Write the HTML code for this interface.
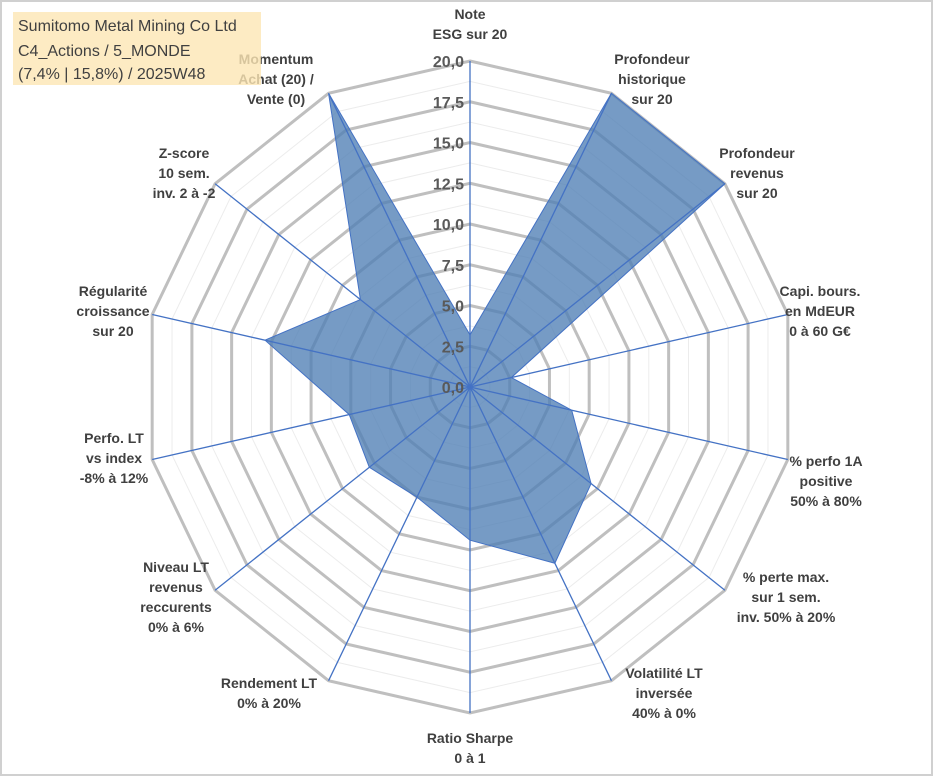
<!DOCTYPE html>
<html><head><meta charset="utf-8"><style>
body{margin:0;background:#fff;}
svg{display:block;font-family:"Liberation Sans",sans-serif;}
.lbl{font-weight:bold;font-size:14px;fill:#404040;text-anchor:middle;}
.tick{font-weight:bold;font-size:16px;fill:#595959;text-anchor:end;}
</style></head><body>
<svg id="chart" width="933" height="776">
<rect x="1" y="1" width="931" height="774" fill="#fff" stroke="#d0d0d0" stroke-width="2"/>
<g id="grid"></g><g id="area"></g><g id="axes"></g><g id="ticks"></g><g id="labels"></g>
<rect x="13" y="12" width="248" height="73" fill="#fde6b4" fill-opacity="0.8"/>
<text x="18" y="31" font-size="16" fill="#404040">Sumitomo Metal Mining Co Ltd</text>
<text x="18" y="56" font-size="16" fill="#404040">C4_Actions / 5_MONDE</text>
<text x="18" y="79" font-size="16" fill="#404040">(7,4% | 15,8%) / 2025W48</text>
</svg>
<script>
const categories=[["Note","ESG sur 20"],["Profondeur","historique","sur 20"],["Profondeur","revenus","sur 20"],["Capi. bours.","en MdEUR","0 à 60 G€"],["% perfo 1A","positive","50% à 80%"],["% perte max.","sur 1 sem.","inv. 50% à 20%"],["Volatilité LT","inversée","40% à 0%"],["Ratio Sharpe","0 à 1"],["Rendement LT","0% à 20%"],["Niveau LT","revenus","reccurents","0% à 6%"],["Perfo. LT","vs index","-8% à 12%"],["Régularité","croissance","sur 20"],["Z-score","10 sem.","inv. 2 à -2"],["Momentum","Achat (20) /","Vente (0)"]];
const values=[3.2,20,20,2.6,6.4,9.5,12.0,9.4,7.5,7.9,7.6,12.9,8.6,20];
const tickLabels=["0,0","2,5","5,0","7,5","10,0","12,5","15,0","17,5","20,0"];
const maxVal=20;
const labelPos=[[470,19],[652,64],[757,158],[820,296],[826,466],[786,582],[664,678],[470,743],[269,688],[176,572],[114,443],[113,296],[184,158],[276,64]];
const cx=470,cy=387,R=326,N=categories.length;
const ns="http://www.w3.org/2000/svg";
function ang(i){return i*2*Math.PI/N;}
function pt(i,v){const r=v/maxVal*R;return [cx+r*Math.sin(ang(i)),cy-r*Math.cos(ang(i))];}
function mk(tag,attrs,parent){const e=document.createElementNS(ns,tag);for(const k in attrs)e.setAttribute(k,attrs[k]);document.getElementById(parent).appendChild(e);return e;}
for(let k=1;k<=16;k++){const v=k*1.25;const pts=[];for(let i=0;i<N;i++)pts.push(pt(i,v).join(","));
const major=k%2===0;
const g=mk("polygon",{points:pts.join(" "),fill:"none",stroke:major?"#bfbfbf":"#ececec","stroke-width":major?3:1},"grid");

}
const ap=values.map((v,i)=>pt(i,v).join(",")).join(" ");
const a=mk("polygon",{points:ap,fill:"#4f7fb5","fill-opacity":"0.78",stroke:"#4472c4","stroke-width":1},"area");


for(let i=0;i<N;i++){const p=pt(i,maxVal);
const l=mk("line",{x1:cx,y1:cy,x2:p[0],y2:p[1],stroke:"#4472c4","stroke-width":1.3},"axes");

}
tickLabels.forEach((t,k)=>{const y=cy-k*2.5/maxVal*R+6;
const e=mk("text",{x:cx-6,y:y,class:"tick"},"ticks");e.textContent=t;

});
categories.forEach((lines,i)=>{const x=labelPos[i][0],y0=labelPos[i][1];
const t=mk("text",{class:"lbl"},"labels");


lines.forEach((ln,j)=>{const ts=document.createElementNS(ns,"tspan");ts.setAttribute("x",x);ts.setAttribute("y",y0+j*20);ts.textContent=ln;t.appendChild(ts);});
});
</script>
</body></html>
